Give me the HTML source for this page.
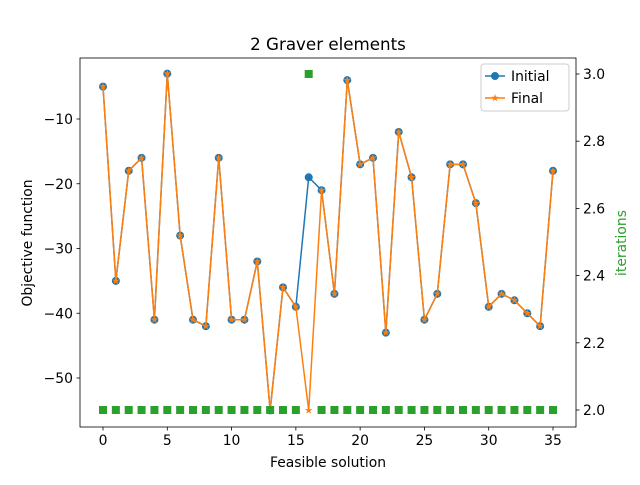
<!DOCTYPE html>
<html><head><meta charset="utf-8"><style>body{margin:0;background:#fff}svg{font-family:"DejaVu Sans","Liberation Sans",sans-serif}</style></head>
<body>
<svg id="c" width="640" height="480"></svg>
<script>
const xs=[...Array(36).keys()];
const initialVals=[-5,-35,-18,-16,-41,-3,-28,-41,-42,-16,-41,-41,-32,-55,-36,-39,-19,-21,-37,-4,-17,-16,-43,-12,-19,-41,-37,-17,-17,-23,-39,-37,-38,-40,-42,-18];
const finalVals=[-5,-35,-18,-16,-41,-3,-28,-41,-42,-16,-41,-41,-32,-55,-36,-39,-55,-21,-37,-4,-17,-16,-43,-12,-19,-41,-37,-17,-17,-23,-39,-37,-38,-40,-42,-18];
const iterVals=[2,2,2,2,2,2,2,2,2,2,2,2,2,2,2,2,3,2,2,2,2,2,2,2,2,2,2,2,2,2,2,2,2,2,2,2];
const xTicks=[0,5,10,15,20,25,30,35];
const yTicks=[-10,-20,-30,-40,-50];
const y2Ticks=[2.0,2.2,2.4,2.6,2.8,3.0];
const L=80,R=576,T=58,B=427;
const X=v=>103+v*450/35;
const Y=v=>119+(-10-v)*6.475;
const Y2=v=>410-(v-2)*336;
const ns="http://www.w3.org/2000/svg",s=document.getElementById('c');
function mk(t,a,txt){const e=document.createElementNS(ns,t);for(const k in a)e.setAttribute(k,a[k]);if(txt!=null)e.textContent=txt;s.appendChild(e);return e;}
let e;
e=mk('rect',{x:L,y:T,width:R-L,height:B-T,fill:'none',stroke:'#000','stroke-width':0.8});


xTicks.forEach(v=>{e=mk('line',{x1:X(v),x2:X(v),y1:B,y2:B+3.5,stroke:'#000','stroke-width':0.8});


e=mk('text',{x:X(v),y:B+18,'font-size':13.9,'text-anchor':'middle'},v);

});
yTicks.forEach(v=>{e=mk('line',{x1:L-3.5,x2:L,y1:Y(v),y2:Y(v),stroke:'#000','stroke-width':0.8});


e=mk('text',{x:L-7,y:Y(v)+5,'font-size':13.9,'text-anchor':'end'},'\u2212'+Math.abs(v));

});
y2Ticks.forEach(v=>{e=mk('line',{x1:R,x2:R+3.5,y1:Y2(v),y2:Y2(v),stroke:'#000','stroke-width':0.8});


e=mk('text',{x:R+7,y:Y2(v)+5,'font-size':13.9},v.toFixed(1));

});
e=mk('text',{x:328,y:50,'font-size':16.7,'text-anchor':'middle'},'2 Graver elements');


e=mk('text',{x:328,y:467,'font-size':13.9,'text-anchor':'middle'},'Feasible solution');


e=mk('text',{x:32,y:243,'font-size':13.9,'text-anchor':'middle',transform:'rotate(-90 32 243)'},'Objective function');


e=mk('text',{x:626,y:243,'font-size':13.9,'text-anchor':'middle',fill:'#2ca02c',transform:'rotate(-90 626 243)'},'iterations');


e=mk('polyline',{points:xs.map((x,i)=>X(x)+','+Y(initialVals[i])).join(' '),fill:'none',stroke:'#1f77b4','stroke-width':1.5});


xs.forEach((x,i)=>{e=mk('circle',{cx:X(x),cy:Y(initialVals[i]),r:4,fill:'#1f77b4'});

});
e=mk('polyline',{points:xs.map((x,i)=>X(x)+','+Y(finalVals[i])).join(' '),fill:'none',stroke:'#ff7f0e','stroke-width':1.5});


function star(cx,cy,r){let p=[];for(let k=0;k<10;k++){const a=-Math.PI/2+k*Math.PI/5,rr=k%2?r*0.4:r;p.push((cx+rr*Math.cos(a)).toFixed(1)+','+(cy+rr*Math.sin(a)).toFixed(1));}return p.join(' ');}
xs.forEach((x,i)=>{e=mk('polygon',{points:star(X(x),Y(finalVals[i]),4),fill:'#ff7f0e'});

});
xs.forEach((x,i)=>{e=mk('rect',{x:X(x)-4,y:Y2(iterVals[i])-4,width:8,height:8,fill:'#2ca02c'});

});
e=mk('rect',{x:481,y:64,width:88,height:47,rx:3,fill:'#fff','fill-opacity':0.8,stroke:'#ccc'});


e=mk('line',{x1:485,x2:505,y1:76,y2:76,stroke:'#1f77b4','stroke-width':1.5});


e=mk('circle',{cx:495,cy:76,r:4,fill:'#1f77b4'});


e=mk('text',{x:511,y:81,'font-size':13.9},'Initial');


e=mk('line',{x1:485,x2:505,y1:98,y2:98,stroke:'#ff7f0e','stroke-width':1.5});


e=mk('polygon',{points:star(495,98,4),fill:'#ff7f0e'});


e=mk('text',{x:511,y:103,'font-size':13.9},'Final');


</script>
</body></html>
